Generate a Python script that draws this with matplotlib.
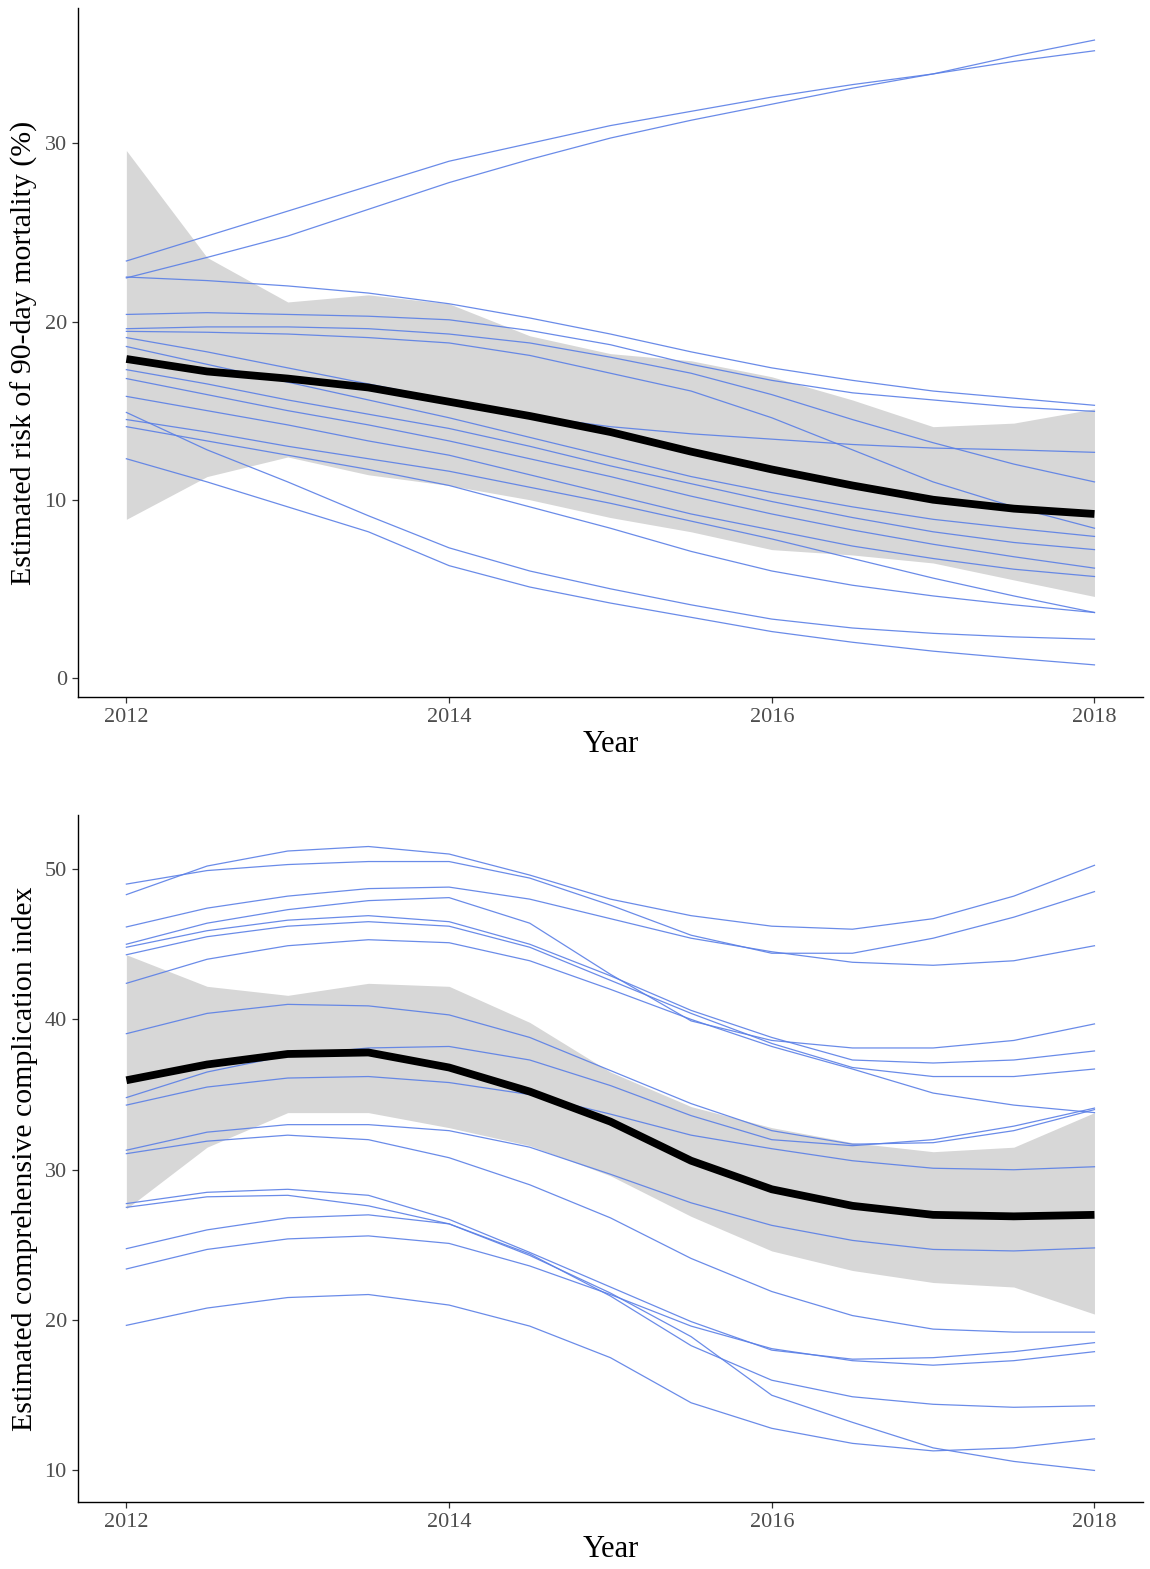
import numpy as np
import matplotlib
matplotlib.use("Agg")
import matplotlib.pyplot as plt

plt.rcParams['font.family'] = ['Liberation Serif', 'DejaVu Serif']

years = [2012, 2012.5, 2013, 2013.5, 2014, 2014.5, 2015, 2015.5, 2016, 2016.5, 2017, 2017.5, 2018]

# ---------------- Panel 1: 90-day mortality (%) ----------------
mort_lines = [
    [23.4, 24.8, 26.2, 27.6, 29.0, 30.0, 31.0, 31.8, 32.6, 33.3, 33.9, 34.6, 35.2],
    [22.45, 23.6, 24.8, 26.3, 27.8, 29.1, 30.3, 31.3, 32.2, 33.1, 33.9, 34.9, 35.8],
    [22.5, 22.3, 22.0, 21.6, 21.0, 20.2, 19.3, 18.3, 17.4, 16.7, 16.1, 15.7, 15.3],
    [20.4, 20.5, 20.4, 20.3, 20.1, 19.5, 18.7, 17.6, 16.7, 16.0, 15.6, 15.2, 14.96],
    [19.6, 19.7, 19.7, 19.6, 19.3, 18.8, 18.0, 17.1, 15.9, 14.5, 13.2, 12.0, 11.0],
    [19.45, 19.4, 19.3, 19.1, 18.8, 18.1, 17.1, 16.1, 14.6, 12.8, 11.0, 9.6, 8.4],
    [19.1, 18.3, 17.4, 16.5, 15.6, 14.7, 14.1, 13.7, 13.4, 13.1, 12.9, 12.8, 12.66],
    [18.6, 17.6, 16.6, 15.6, 14.6, 13.5, 12.4, 11.3, 10.4, 9.6, 8.9, 8.4, 7.94],
    [17.3, 16.5, 15.6, 14.8, 14.0, 13.0, 11.9, 10.9, 9.9, 9.0, 8.2, 7.6, 7.2],
    [16.8, 15.9, 15.0, 14.2, 13.3, 12.3, 11.3, 10.2, 9.2, 8.3, 7.5, 6.8, 6.16],
    [15.8, 15.0, 14.2, 13.3, 12.5, 11.4, 10.3, 9.2, 8.3, 7.4, 6.7, 6.1, 5.69],
    [14.5, 13.8, 13.0, 12.3, 11.6, 10.7, 9.8, 8.8, 7.8, 6.7, 5.6, 4.6, 3.67],
    [14.1, 13.3, 12.5, 11.7, 10.8, 9.6, 8.4, 7.1, 6.0, 5.2, 4.6, 4.1, 3.67],
    [14.9, 12.8, 11.0, 9.1, 7.3, 6.0, 5.0, 4.1, 3.3, 2.8, 2.5, 2.3, 2.17],
    [12.3, 11.0, 9.6, 8.2, 6.3, 5.1, 4.2, 3.4, 2.6, 2.0, 1.5, 1.1, 0.73],
]
mort_mean = [17.9, 17.2, 16.8, 16.3, 15.5, 14.7, 13.8, 12.7, 11.7, 10.8, 10.0, 9.5, 9.2]
mort_upper = [29.6, 23.6, 21.1, 21.5, 21.0, 19.2, 18.2, 17.8, 16.9, 15.6, 14.1, 14.3, 15.1]
mort_lower = [8.9, 11.3, 12.4, 11.4, 10.8, 10.0, 9.0, 8.2, 7.2, 6.9, 6.45, 5.5, 4.57]

# ---------------- Panel 2: comprehensive complication index ----------------
cci_lines = [
    [48.3, 50.2, 51.2, 51.5, 51.0, 49.6, 48.0, 46.9, 46.2, 46.0, 46.7, 48.2, 50.25],
    [49.0, 49.9, 50.3, 50.5, 50.5, 49.4, 47.6, 45.6, 44.4, 44.4, 45.4, 46.8, 48.5],
    [46.15, 47.4, 48.2, 48.7, 48.8, 48.0, 46.7, 45.4, 44.5, 43.8, 43.6, 43.9, 44.9],
    [45.0, 46.4, 47.3, 47.9, 48.1, 46.4, 43.0, 39.9, 38.6, 38.1, 38.1, 38.6, 39.7],
    [44.8, 45.9, 46.6, 46.9, 46.5, 45.0, 42.9, 40.6, 38.8, 37.3, 37.1, 37.3, 37.9],
    [44.3, 45.5, 46.2, 46.5, 46.2, 44.8, 42.6, 40.4, 38.4, 36.8, 36.2, 36.2, 36.7],
    [42.4, 44.0, 44.9, 45.3, 45.1, 43.9, 42.0, 40.0, 38.2, 36.7, 35.1, 34.3, 33.8],
    [39.05, 40.4, 41.0, 40.9, 40.3, 38.8, 36.6, 34.4, 32.6, 31.7, 31.8, 32.6, 34.0],
    [34.8, 36.5, 37.6, 38.1, 38.2, 37.3, 35.6, 33.6, 32.0, 31.6, 32.0, 32.9, 34.1],
    [34.3, 35.5, 36.1, 36.2, 35.8, 35.0, 33.7, 32.3, 31.4, 30.6, 30.1, 30.0, 30.2],
    [31.3, 32.5, 33.0, 33.0, 32.6, 31.5, 29.7, 27.8, 26.3, 25.3, 24.7, 24.6, 24.8],
    [31.07, 31.9, 32.3, 32.0, 30.8, 29.0, 26.8, 24.1, 21.9, 20.3, 19.4, 19.2, 19.2],
    [27.75, 28.5, 28.7, 28.3, 26.7, 24.5, 22.2, 19.9, 18.0, 17.4, 17.5, 17.9, 18.5],
    [27.5, 28.2, 28.3, 27.6, 26.4, 24.3, 21.8, 18.9, 15.0, 13.2, 11.5, 10.6, 10.0],
    [24.75, 26.0, 26.8, 27.0, 26.4, 24.4, 21.6, 18.3, 16.0, 14.9, 14.4, 14.2, 14.3],
    [23.4, 24.7, 25.4, 25.6, 25.1, 23.6, 21.7, 19.6, 18.1, 17.3, 17.0, 17.3, 17.9],
    [19.65, 20.8, 21.5, 21.7, 21.0, 19.6, 17.5, 14.5, 12.8, 11.8, 11.3, 11.5, 12.1],
]
cci_mean = [35.95, 37.0, 37.7, 37.8, 36.8, 35.2, 33.2, 30.6, 28.7, 27.6, 27.0, 26.9, 27.0]
cci_upper = [44.3, 42.2, 41.6, 42.4, 42.2, 39.8, 36.5, 34.2, 32.8, 31.8, 31.2, 31.5, 33.8]
cci_lower = [27.4, 31.5, 33.8, 33.8, 32.8, 31.6, 29.6, 26.9, 24.6, 23.3, 22.5, 22.2, 20.4]

x_ticks = [2012, 2014, 2016, 2018]
mort_yticks = [0, 10, 20, 30]
cci_yticks = [10, 20, 30, 40, 50]

BLUE = '#5a7fe6'
BAND = '#d7d7d7'
TICKCOL = '#4d4d4d'

fig = plt.figure(figsize=(11.5, 15.69), dpi=100)
ax1 = fig.add_axes([0.0678, 0.5558, 0.926, 0.4391])
ax2 = fig.add_axes([0.0678, 0.0427, 0.926, 0.4379])


def draw(ax, lines, mean, lo, hi, yticks, ylim, ylabel):
    ax.fill_between(years, lo, hi, color=BAND, lw=0, zorder=1)
    for ln in lines:
        ax.plot(years, ln, color=BLUE, lw=0.9, alpha=0.9, zorder=2)
    ax.plot(years, mean, color='black', lw=5.6, solid_capstyle='butt',
            solid_joinstyle='round', zorder=3)
    ax.set_xlim(2011.7, 2018.3)
    ax.set_ylim(*ylim)
    ax.set_xticks(x_ticks)
    ax.set_xticklabels([str(t) for t in x_ticks])
    ax.set_yticks(yticks)
    for s in ['top', 'right']:
        ax.spines[s].set_visible(False)
    for s in ['left', 'bottom']:
        ax.spines[s].set_linewidth(1.0)
        ax.spines[s].set_color('black')
    ax.tick_params(axis='both', direction='out', length=4, width=0.9,
                   color='#333333', labelsize=16, labelcolor=TICKCOL, pad=4)
    ax.set_xlabel('Year', fontsize=22, labelpad=2)
    ax.set_ylabel(ylabel, fontsize=21.5, labelpad=5)


draw(ax1, mort_lines, mort_mean, mort_lower, mort_upper, mort_yticks,
     (-1.07, 37.6), 'Estimated risk of 90-day mortality (%)')
draw(ax2, cci_lines, cci_mean, cci_lower, cci_upper, cci_yticks,
     (7.9, 53.6), 'Estimated comprehensive complication index')

fig.savefig('out.png', dpi=100)
